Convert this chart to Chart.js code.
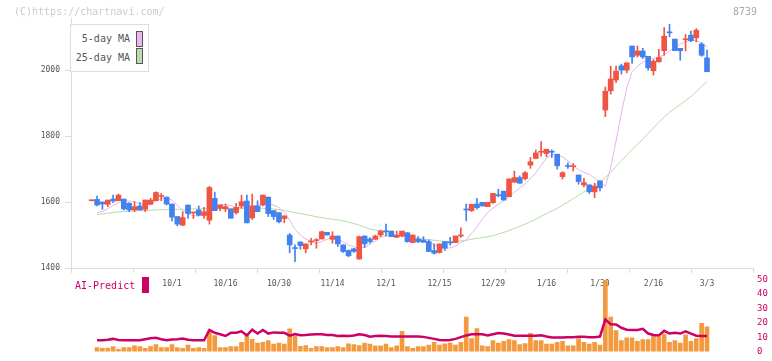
<!DOCTYPE html>
<html>
<head>
<meta charset="utf-8">
<script src="https://cdn.jsdelivr.net/npm/chart.js@4.4.1/dist/chart.umd.min.js"></script>
<style>
body { margin: 0; background: #fff; width: 772px; height: 361px; overflow: hidden; position: relative; font-family: "DejaVu Sans Mono", monospace; }
canvas { position: absolute; left: 0; }
#main { top: 0; }
#sub { top: 270px; }
.t { position: absolute; white-space: nowrap; font-size: 10px; line-height: 12px; }
.sw { position: absolute; }
</style>
</head>
<body>
<canvas id="main" width="772" height="300"></canvas>
<canvas id="sub" width="772" height="91"></canvas>

<div class="t" style="left:14px;top:6px;color:#ccc">(C)https://chartnavi.com/</div>
<div class="t" style="right:15px;top:6px;color:#aaa">8739</div>

<div style="position:absolute;left:70px;top:24px;width:77px;height:46px;border:1px solid #ddd;background:#fff"></div>
<div class="t" style="right:642px;top:33px;color:#555">5-day MA</div>
<div class="sw" style="left:136px;top:31px;width:5px;height:14px;border:1px solid #555;background:#ebb8ec"></div>
<div class="t" style="right:642px;top:52px;color:#555">25-day MA</div>
<div class="sw" style="left:136px;top:48px;width:5px;height:14px;border:1px solid #555;background:#b9dcb0"></div>

<div class="t" style="left:75px;top:280px;color:#c06">AI-Predict</div>
<div class="sw" style="left:142px;top:277px;width:7px;height:16px;background:#c06"></div>

<script>
// 日付（営業日）
const dates = ['9/8','9/9','9/10','9/11','9/12','9/16','9/17','9/18','9/19','9/22','9/24','9/25','9/26','9/29','9/30',
  '10/1','10/2','10/3','10/6','10/7','10/8','10/9','10/10','10/14','10/15','10/16','10/17','10/20','10/21','10/22','10/23','10/24','10/27','10/28','10/29','10/30','10/31',
  '11/4','11/5','11/6','11/7','11/10','11/11','11/12','11/13','11/14','11/17','11/18','11/19','11/20','11/21','11/25','11/26','11/27','11/28',
  '12/1','12/2','12/3','12/4','12/5','12/8','12/9','12/10','12/11','12/12','12/15','12/16','12/17','12/18','12/19','12/22','12/23','12/24','12/25','12/26','12/29','12/30',
  '1/5','1/6','1/7','1/8','1/9','1/13','1/14','1/15','1/16','1/19','1/20','1/21','1/22','1/23','1/26','1/27','1/28','1/29','1/30',
  '2/2','2/3','2/4','2/5','2/6','2/9','2/10','2/12','2/13','2/16','2/17','2/18','2/19','2/20','2/24','2/25','2/26','2/27',
  '3/2','3/3'];
const tickLabels = ['10/1','10/16','10/30','11/14','12/1','12/15','12/29','1/16','1/30','2/16','3/3'];
const priceTicks = [1400, 1600, 1800, 2000];
const aiTicks = [0, 10, 20, 30, 40, 50];

const open = [1604,1608,1600,1593,1609,1604,1609,1596,1576,1588,
  1578,1593,1604,1617,1615,1594,1556,1530,1591,1567,
  1576,1559,1545,1611,1581,1579,1579,1568,1588,1603,
  1552,1588,1591,1615,1574,1568,1550,1500,1461,1479,
  1458,1479,1483,1488,1508,1487,1497,1470,1453,1458,
  1427,1497,1488,1487,1500,1513,1512,1493,1497,1507,
  1477,1488,1485,1480,1453,1447,1480,1478,1477,1497,
  1578,1574,1594,1599,1586,1598,1620,1633,1616,1660,
  1674,1671,1712,1732,1751,1747,1753,1745,1677,1710,
  1707,1682,1652,1652,1631,1664,1879,1937,1970,2013,
  2000,2073,2045,2058,2042,1998,2025,2059,2115,2094,
  2066,2092,2106,2098,2079,2037];
const high = [1606,1618,1600,1606,1621,1624,1609,1598,1601,1598,
  1606,1611,1631,1626,1615,1594,1556,1571,1591,1569,
  1588,1584,1648,1630,1591,1594,1579,1596,1621,1621,
  1624,1604,1621,1615,1574,1568,1558,1505,1470,1479,
  1473,1490,1489,1512,1508,1510,1497,1470,1455,1460,
  1497,1497,1492,1500,1515,1533,1512,1512,1512,1507,
  1500,1495,1495,1485,1473,1473,1480,1493,1497,1522,
  1594,1593,1611,1599,1599,1626,1639,1633,1670,1694,
  1679,1692,1735,1758,1783,1760,1758,1745,1692,1719,
  1717,1682,1672,1652,1657,1664,1949,2012,2012,2018,
  2022,2073,2073,2066,2042,2032,2063,2129,2139,2094,
  2066,2108,2118,2126,2083,2061];
const low = [1603,1588,1578,1586,1598,1604,1576,1571,1571,1576,
  1571,1593,1604,1604,1591,1543,1528,1528,1550,1550,
  1558,1550,1533,1574,1574,1571,1551,1563,1581,1537,
  1547,1571,1588,1556,1547,1537,1537,1446,1419,1457,
  1446,1470,1460,1488,1500,1475,1465,1447,1434,1447,
  1427,1462,1475,1487,1495,1497,1495,1493,1494,1478,
  1477,1477,1478,1450,1442,1445,1453,1469,1477,1493,
  1543,1571,1578,1588,1586,1596,1616,1606,1616,1660,
  1657,1667,1702,1732,1739,1737,1735,1700,1670,1702,
  1694,1654,1646,1626,1613,1634,1859,1927,1962,1988,
  1992,2020,2040,2035,2000,1985,2025,2045,2101,2059,
  2030,2058,2086,2086,2042,1995];
const close = [1606,1591,1594,1606,1603,1621,1579,1576,1586,1576,
  1606,1606,1629,1619,1594,1554,1533,1553,1565,1569,
  1560,1570,1644,1574,1591,1586,1551,1584,1601,1537,
  1588,1571,1621,1565,1556,1540,1558,1470,1459,1468,
  1473,1481,1485,1510,1500,1497,1473,1450,1437,1450,
  1495,1473,1480,1497,1512,1510,1495,1499,1512,1480,
  1500,1480,1478,1450,1445,1473,1460,1476,1497,1500,
  1576,1593,1583,1588,1599,1626,1619,1606,1670,1674,
  1657,1689,1722,1749,1753,1760,1751,1710,1689,1708,
  1709,1662,1659,1631,1648,1643,1936,1973,1997,2000,
  2022,2040,2058,2040,2007,2027,2038,2103,2113,2059,
  2059,2093,2089,2121,2045,1995];

// 移動平均
const ma5 = [null,1567,1572,1580,1590,1598,1603,1603,1601,1595,
  1594,1594,1603,1611,1611,1606,1590,1574,1565,1558,
  1558,1567,1580,1588,1592,1593,1590,1583,1584,1586,
  1587,1591,1594,1593,1591,1583,1568,1545,1517,1500,
  1488,1480,1475,1480,1487,1493,1487,1479,1470,1464,
  1460,1462,1472,1482,1492,1497,1500,1500,1500,1496,
  1489,1484,1482,1479,1471,1464,1461,1461,1466,1477,
  1485,1505,1525,1548,1568,1582,1593,1604,1617,1629,
  1643,1655,1672,1688,1712,1733,1745,1743,1737,1725,
  1710,1698,1690,1684,1672,1662,1648,1705,1785,1870,
  1945,1995,2012,2024,2032,2036,2040,2046,2058,2068,
  2078,2086,2090,2089,2082,2070];
const ma25 = [null,1562,1564,1566,1568,1570,1571,1572,1573,1574,
  1574,1575,1576,1577,1577,1578,1578,1578,1579,1579,
  1579,1580,1580,1580,1580,1580,1580,1581,1581,1581,
  1581,1581,1581,1580,1579,1577,1574,1571,1568,1565,
  1562,1559,1555,1553,1550,1548,1546,1543,1539,1535,
  1530,1524,1518,1515,1511,1507,1503,1500,1498,1495,
  1493,1490,1488,1486,1484,1482,1481,1480,1481,1482,
  1484,1487,1490,1492,1495,1498,1503,1508,1514,1520,
  1526,1533,1540,1548,1557,1565,1573,1581,1590,1600,
  1610,1620,1631,1642,1651,1660,1674,1690,1708,1725,
  1742,1760,1775,1790,1808,1825,1842,1858,1872,1884,
  1896,1908,1920,1935,1950,1965];

// 出来高（相対値）とAI-Predict
const volume = [null,2.8,2.2,2.4,3.4,1.6,2.8,2.8,4.0,3.4,
  2.2,3.4,4.9,2.8,2.8,4.9,2.8,2.2,4.6,2.2,
  2.8,2.2,14.0,11.1,2.8,2.8,3.4,3.4,6.5,11.5,
  8.5,5.9,6.5,7.7,5.2,5.9,5.2,15.8,10.9,3.6,
  4.1,2.2,3.4,3.4,2.8,2.8,3.4,2.8,5.3,4.9,
  4.2,5.9,5.2,4.0,4.0,5.2,2.8,4.0,14.0,3.4,
  2.2,3.4,3.4,4.6,6.5,4.6,5.3,5.9,4.6,6.5,
  23.9,9.0,16.0,4.0,3.4,7.7,5.9,7.1,8.4,7.7,
  4.8,5.5,12.6,7.7,7.7,5.2,5.2,6.5,7.1,4.0,
  4.0,9.0,6.5,5.2,6.5,4.6,49.4,23.9,14.6,7.7,
  9.6,9.6,7.1,8.4,8.4,10.9,10.3,12.1,6.5,7.7,
  5.9,11.6,7.1,9.0,19.6,17.1];
const aiPredict = [null,7.8,7.8,8.2,8.8,8.0,7.8,7.8,7.8,7.8,
  8.5,9.2,9.6,8.6,7.9,8.4,8.6,9.0,8.2,7.8,
  7.8,7.8,15.0,13.0,12.0,10.8,13.0,13.0,14.0,11.2,
  15.2,12.5,15.0,12.5,13.3,13.0,13.0,11.0,12.2,11.3,
  11.5,11.8,12.0,12.0,11.5,11.5,10.8,11.0,10.8,11.2,
  12.0,11.5,10.3,10.8,11.0,10.8,10.5,10.5,10.5,10.5,
  10.5,10.5,10.2,9.5,8.8,8.0,7.8,8.0,8.8,10.0,
  11.2,12.0,12.0,12.0,11.2,12.0,12.8,12.6,11.8,11.0,
  10.9,10.9,10.9,11.0,11.3,10.5,9.8,9.8,9.8,9.9,
  10.0,10.2,10.2,9.9,10.0,10.4,22.3,19.0,18.8,16.5,
  15.2,15.0,15.0,15.8,12.5,11.5,11.2,14.4,12.5,13.0,
  12.5,14.0,12.5,11.0,10.8,10.8];

const mono = 'DejaVu Sans Mono';
const xMin = -3.87, xMax = 123.6;
const tickIdx = tickLabels.map(t => dates.indexOf(t));
const upColor = '#f05442', downColor = '#4282f0';
const candleColor = close.map((c, i) => c >= open[i] ? upColor : downColor);
const pts = arr => arr.map((v, i) => ({x: i, y: v}));

//ローソク足
new Chart(document.getElementById('main'), {
    type: 'bar',
    data: {
        datasets: [
            { type: 'line', data: pts(ma5), borderColor: '#e6b3ea', borderWidth: 1, pointRadius: 0, order: 3 },
            { type: 'line', data: pts(ma25), borderColor: '#b5dbab', borderWidth: 1, pointRadius: 0, order: 4 },
            { data: low.map((v, i) => ({x: i, y: [v, high[i]]})), backgroundColor: candleColor, barThickness: 1, grouped: false, order: 2 },
            { data: open.map((v, i) => ({x: i, y: [v, close[i]]})), backgroundColor: candleColor, barThickness: 5, minBarLength: 1, grouped: false, order: 1 }
        ]
    },
    options: {
        responsive: false,
        animation: false,
        layout: { padding: { left: 0, right: 19, top: 18, bottom: 0 } },
        scales: {
            x: {
                type: 'linear', min: xMin, max: xMax, weight: 1, offset: false,
                afterBuildTicks: s => { s.ticks = tickIdx.map(v => ({value: v})); },
                afterFit: s => { s.height = 32; },
                ticks: { callback: v => dates[v], font: { family: mono, size: 8 }, color: '#555', maxRotation: 0, autoSkip: false, padding: 3 },
                grid: { display: false, offset: false },
                border: { display: false }
            },
            xg: {
                type: 'linear', position: 'bottom', min: 0, max: 11, weight: 0, offset: false,
                afterFit: s => { s.height = 0; },
                ticks: { display: false, stepSize: 1 },
                grid: { drawOnChartArea: false, color: '#ddd', tickLength: 5, offset: false },
                border: { color: '#ddd' }
            },
            y: {
                min: 1400, max: 2158, position: 'left',
                afterBuildTicks: s => { s.ticks = priceTicks.map(v => ({value: v})); },
                afterFit: s => { s.width = 71; },
                ticks: { callback: v => String(v), font: { family: mono, size: 8 }, color: '#555', padding: 5 },
                grid: { drawOnChartArea: false, color: '#ddd', tickLength: 6 },
                border: { color: '#ddd' }
            }
        },
        plugins: { legend: { display: false }, tooltip: { enabled: false } }
    }
});

//出来高とAI-Predict
new Chart(document.getElementById('sub'), {
    type: 'bar',
    data: {
        datasets: [
            { type: 'line', data: pts(aiPredict), borderColor: '#cc0066', borderWidth: 2.5, pointRadius: 0, yAxisID: 'y', order: 1 },
            { data: pts(volume), backgroundColor: '#f39a3f', barThickness: 4, yAxisID: 'yv', order: 2 }
        ]
    },
    options: {
        responsive: false,
        animation: false,
        layout: { padding: { left: 71, right: 0, top: 7, bottom: 2.5 } },
        scales: {
            x: { type: 'linear', min: xMin, max: xMax, display: false, offset: false },
            y: {
                position: 'right', min: 0, max: 50,
                afterBuildTicks: s => { s.ticks = aiTicks.map(v => ({value: v})); },
                afterFit: s => { s.width = 19; },
                ticks: { font: { family: mono, size: 9 }, color: '#cc0066', padding: 4 },
                grid: { display: false, drawTicks: false },
                border: { display: false }
            },
            yv: { min: 0, max: 50, display: false }
        },
        plugins: { legend: { display: false }, tooltip: { enabled: false } }
    }
});
</script>
</body>
</html>
